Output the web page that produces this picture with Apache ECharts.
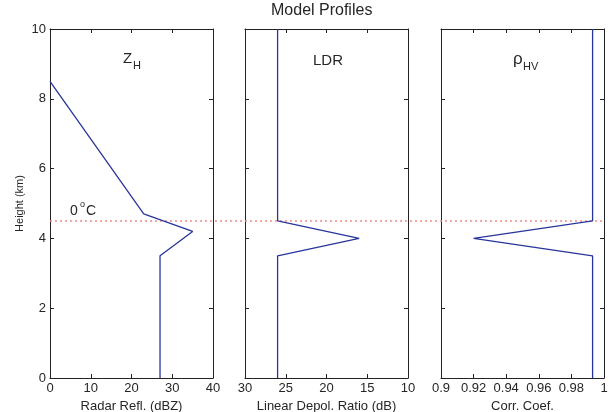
<!DOCTYPE html>
<html>
<head>
<meta charset="utf-8">
<title>Model Profiles</title>
<script src="https://cdn.jsdelivr.net/npm/echarts@6/dist/echarts.min.js"></script>
<style>
  html, body { margin: 0; padding: 0; background: #fff; }
  #chart { width: 613px; height: 412px; }
</style>
</head>
<body>
<div id="chart"></div>
<script>
// profile data (height in km)
const zhHeights = [8.5, 4.7, 4.2, 3.5, 0];
const zhValues = [0, 23, 35, 27, 27];
const ldrHeights = [10, 4.5, 4.0, 3.5, 0];
const ldrValues = [26, 26, 16, 26, 26];
const rhoHeights = [10, 4.5, 4.0, 3.5, 0];
const rhoValues = [0.993, 0.993, 0.92, 0.993, 0.993];
const meltingHeight = 4.5;
const heightTicks = [0, 2, 4, 6, 8, 10];

const font = 'Liberation Sans, Arial, sans-serif';
const textColor = '#262626';
const lineColor = '#28359a';

let myChart = echarts.init(document.getElementById('chart'));

function pairs(xs, ys) {
    return xs.map(function (x, i) { return [x, ys[i]]; });
}

// plain text label placed by pixel (title component)
function label(text, left, top, size) {
    return {
        text: text, left: left, top: top, padding: 0,
        textStyle: { color: textColor, fontFamily: font, fontSize: size, fontWeight: 'normal' }
    };
}

// one grid per panel, plus a full width overlay for the 0 C line
const panels = [
    { left: 50, min: 0, max: 40, interval: 10, inverse: false, name: 'Radar Refl. (dBZ)' },
    { left: 245, min: 10, max: 30, interval: 5, inverse: true, name: 'Linear Depol. Ratio (dB)' },
    { left: 441, min: 0.9, max: 1, interval: 0.02, inverse: false, name: 'Corr. Coef.' }
];

let grids = [];
let xAxes = [];
let yAxes = [];

panels.forEach(function (p, i) {
    grids.push({ left: p.left, top: 29, width: 163, height: 349, outerBoundsMode: 'none' });
    let tick = { show: true, inside: true, length: 4, lineStyle: { color: '#222' } };
    let line = { show: true, onZero: false, lineStyle: { color: '#222', width: 1 } };
    xAxes.push({
        type: 'value', gridIndex: i, position: 'bottom',
        min: p.min, max: p.max, interval: p.interval, inverse: p.inverse,
        axisLine: line, axisTick: tick, splitLine: { show: false },
        axisLabel: {
            color: textColor, fontFamily: font, fontSize: 13, margin: 4,
            formatter: function (v) { return String(+v.toFixed(2)); }
        },
        name: p.name, nameLocation: 'middle', nameGap: 20,
        nameTextStyle: { color: textColor, fontFamily: font, fontSize: 13 }
    });
    xAxes.push({
        type: 'value', gridIndex: i, position: 'top',
        min: p.min, max: p.max, interval: p.interval, inverse: p.inverse,
        axisLine: line, axisTick: tick, axisLabel: { show: false }, splitLine: { show: false }
    });
    yAxes.push({
        type: 'value', gridIndex: i, position: 'left',
        min: 0, max: 10, interval: 2,
        axisLine: line, axisTick: tick, splitLine: { show: false },
        axisLabel: {
            show: i === 0, color: textColor, fontFamily: font, fontSize: 13, margin: 4,
            formatter: function (v) { return heightTicks.indexOf(v) >= 0 ? String(v) : ''; }
        },
        name: i === 0 ? 'Height (km)' : '', nameLocation: 'middle', nameGap: 25,
        nameTextStyle: { color: textColor, fontFamily: font, fontSize: 11 }
    });
    yAxes.push({
        type: 'value', gridIndex: i, position: 'right',
        min: 0, max: 10, interval: 2,
        axisLine: line, axisTick: tick, axisLabel: { show: false }, splitLine: { show: false }
    });
});

// overlay grid spanning all three panels
grids.push({ left: 50, top: 29, width: 554, height: 349, outerBoundsMode: 'none' });
xAxes.push({ type: 'value', gridIndex: 3, min: 0, max: 1, show: false });
yAxes.push({ type: 'value', gridIndex: 3, min: 0, max: 10, show: false });

function profile(idx, data) {
    return {
        type: 'line', xAxisIndex: idx * 2, yAxisIndex: idx * 2,
        data: data, showSymbol: false, silent: true, z: 3,
        lineStyle: { color: lineColor, width: 1.3 }
    };
}

let option = {
    animation: false,
    title: [
        label('Model Profiles', 271, 3, 16),
        label('Z', 123, 51, 15),
        label('H', 133, 60, 11),
        label('LDR', 313, 53, 15),
        label('\u03c1', 513, 51, 17),
        label('HV', 523, 61, 11),
        label('0', 70, 204, 14),
        label('o', 80, 200, 9),
        label('C', 86, 204, 14)
    ],
    grid: grids,
    xAxis: xAxes,
    yAxis: yAxes,
    series: [
        profile(0, pairs(zhValues, zhHeights)),
        profile(1, pairs(ldrValues, ldrHeights)),
        profile(2, pairs(rhoValues, rhoHeights)),
        {
            type: 'line', xAxisIndex: 6, yAxisIndex: 6,
            data: [[0, meltingHeight], [1, meltingHeight]],
            showSymbol: false, silent: true, z: 2,
            lineStyle: { color: '#f08a8a', width: 1.5, type: [2, 3] }
        }
    ]
};

myChart.setOption(option);
</script>
</body>
</html>
